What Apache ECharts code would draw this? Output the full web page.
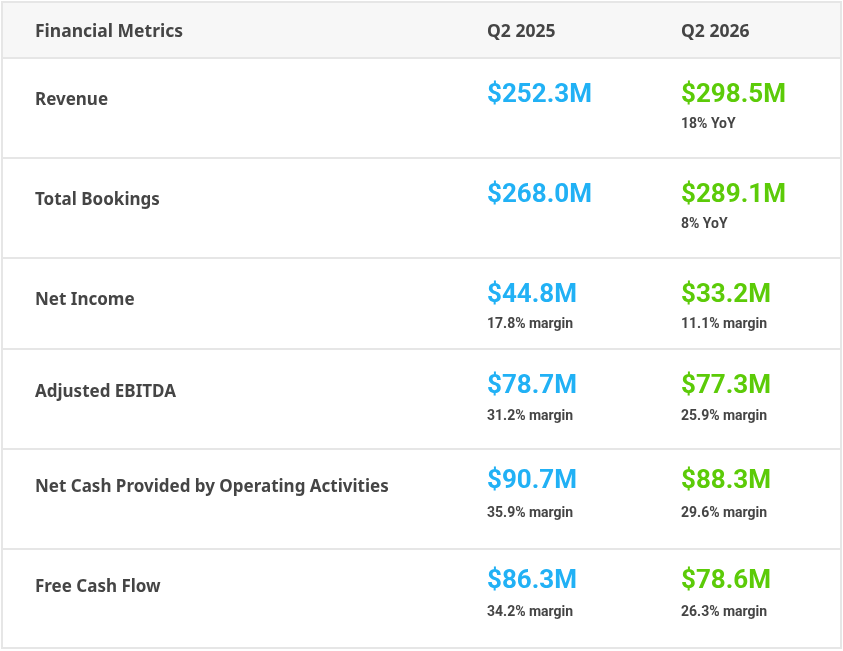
<!DOCTYPE html>
<html>
<head>
<meta charset="utf-8">
<style>
  html, body { margin: 0; padding: 0; background: #fff; }
  #wrap { width: 843px; height: 651px; }
</style>
<script src="https://cdn.jsdelivr.net/npm/echarts@6/dist/echarts.min.js"></script>
</head>
<body>
<div id="wrap"></div>
<script>
// table content
var headers = ['Financial Metrics', 'Q2 2025', 'Q2 2026'];
var metrics = ['Revenue', 'Total Bookings', 'Net Income', 'Adjusted EBITDA',
  'Net Cash Provided by Operating Activities', 'Free Cash Flow'];
var q2025 = [252.3, 268.0, 44.8, 78.7, 90.7, 86.3];
var q2026 = [298.5, 289.1, 33.2, 77.3, 88.3, 78.6];
var notes2025 = ['', '', '17.8% margin', '31.2% margin', '35.9% margin', '34.2% margin'];
var notes2026 = ['18% YoY', '8% YoY', '11.1% margin', '25.9% margin', '29.6% margin', '26.3% margin'];

// layout (in page pixels, mapped through the hidden axes)
var rowEdges = [2, 58, 158, 258, 349, 449, 549, 648];
var colX = [35, 487, 681];
var labelDy = [42, 42, 42, 43, 38, 38];
var valueDy = [37, 37, 37, 37, 32, 32];
var noteDy = [66, 66, 66, 67, 64, 63];

var textColor = '#454545';
var blue = '#21b1f5';
var green = '#5ccb08';
var lineColor = '#e6e6e6';
var labelFont = '"Noto Sans", "Open Sans", sans-serif';
var numFont = 'Roboto, "Noto Sans", sans-serif';

function money(v) {
  return '$' + v.toFixed(1) + 'M';
}

function txt(api, x, y, text, color, font) {
  var p = api.coord([x, y]);
  return {
    type: 'text',
    style: {
      text: text,
      x: p[0],
      y: p[1],
      fill: color,
      font: font,
      align: 'left',
      verticalAlign: 'middle'
    }
  };
}

function renderRow(params, api) {
  var i = api.value(0);
  var top = rowEdges[i];
  var bottom = rowEdges[i + 1];
  var tl = api.coord([2, top]);
  var br = api.coord([841, bottom]);
  var children = [{
    type: 'rect',
    shape: { x: tl[0], y: tl[1], width: br[0] - tl[0], height: br[1] - tl[1] },
    style: { fill: i === 0 ? '#f7f7f7' : '#ffffff', stroke: lineColor, lineWidth: 2 }
  }];

  if (i === 0) {
    var mid = (top + bottom) / 2 + 2;
    headers.forEach(function (h, c) {
      children.push(txt(api, colX[c], mid, h, textColor, 'bold 17.5px ' + labelFont));
    });
  } else {
    var r = i - 1;
    children.push(txt(api, colX[0], top + labelDy[r], metrics[r], textColor, 'bold 17px ' + labelFont));
    children.push(txt(api, colX[1], top + valueDy[r], money(q2025[r]), blue, 'bold 26px ' + numFont));
    children.push(txt(api, colX[2], top + valueDy[r], money(q2026[r]), green, 'bold 26px ' + numFont));
    if (notes2025[r]) {
      children.push(txt(api, colX[1], top + noteDy[r], notes2025[r], textColor, 'bold 14px ' + numFont));
    }
    if (notes2026[r]) {
      children.push(txt(api, colX[2], top + noteDy[r], notes2026[r], textColor, 'bold 14px ' + numFont));
    }
  }
  return { type: 'group', children: children };
}

var rows = [];
for (var k = 0; k <= metrics.length; k++) {
  rows.push([k]);
}

var option = {
  animation: false,
  grid: { left: 0, right: 0, top: 0, bottom: 0 },
  xAxis: { type: 'value', min: 0, max: 843, show: false },
  yAxis: { type: 'value', min: 0, max: 651, inverse: true, show: false },
  series: [{
    type: 'custom',
    coordinateSystem: 'cartesian2d',
    renderItem: renderRow,
    data: rows,
    silent: true
  }]
};

var myChart = echarts.init(document.getElementById('wrap'));
myChart.setOption(option);
</script>
</body>
</html>
